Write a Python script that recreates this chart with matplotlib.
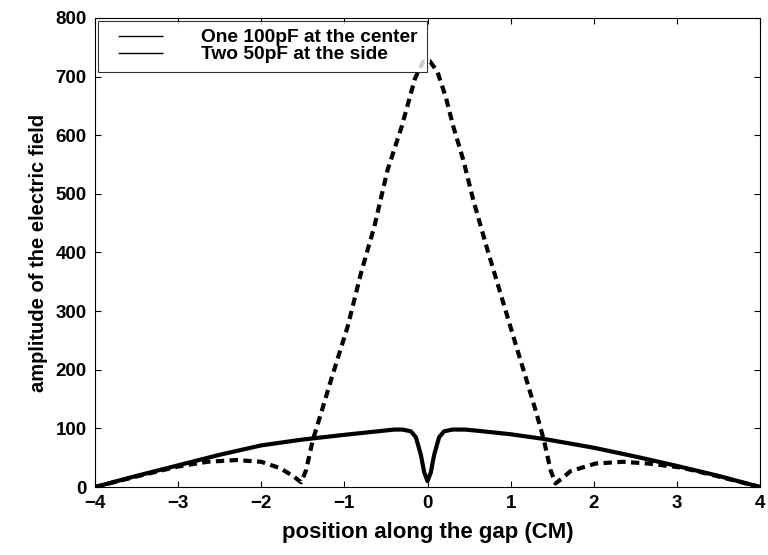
import numpy as np
import matplotlib.pyplot as plt
from matplotlib.lines import Line2D

plt.rcParams["font.family"] = ["Liberation Sans", "DejaVu Sans"]
plt.rcParams["font.weight"] = "bold"
plt.rcParams["axes.labelweight"] = "bold"

# One 100pF capacitor at the center of the gap
x_center = [-4.0, -3.5, -3.0, -2.5, -2.0, -1.5, -1.0, -0.6, -0.4, -0.3,
            -0.2, -0.14, -0.08, -0.04, 0.0, 0.04, 0.08, 0.14, 0.2, 0.3,
            0.45, 0.6, 1.0, 1.4, 2.0, 2.5, 3.0, 3.5, 4.0]
e_center = [0, 19, 37, 55, 71, 81, 89, 95, 98, 98,
            95, 85, 55, 25, 10, 25, 55, 85, 95, 98,
            98, 96, 90, 82, 67, 52, 36, 19, 0]

# Two 50pF capacitors at the sides
x_side = [-4.0, -3.5, -3.0, -2.65, -2.3, -2.0, -1.77, -1.61, -1.52, -1.46,
          -1.38, -1.28, -1.16, -0.96, -0.80, -0.64, -0.48, -0.31, -0.15, -0.05,
          0.03, 0.12, 0.22, 0.31, 0.43, 0.55, 0.71, 0.83, 0.95, 1.07,
          1.19, 1.31, 1.40, 1.48, 1.54, 1.62, 1.72, 2.02, 2.35, 2.66,
          3.06, 3.5, 4.0]
e_side = [0, 18, 35, 43, 46, 43, 32, 18, 8, 29,
          80, 126, 183, 274, 365, 444, 541, 615, 697, 726,
          726, 708, 665, 615, 558, 490, 410, 353, 296, 239,
          183, 126, 80, 29, 6, 15, 27, 40, 43, 40,
          33, 18, 0]

fig = plt.figure(figsize=(7.68, 5.55), dpi=100)
ax = fig.add_axes([0.1237, 0.1225, 0.8659, 0.8451])

ax.plot(x_center, e_center, color="black", lw=3.0, solid_joinstyle="round")
ax.plot(x_side, e_side, color="black", lw=3.0, linestyle=(0, (2, 1.3)))

ax.set_xlim(-4, 4)
ax.set_ylim(0, 800)
ax.set_xticks(np.arange(-4, 5, 1))
ax.set_yticks(np.arange(0, 801, 100))
ax.tick_params(direction="in", top=True, right=True, length=4, width=0.8,
               labelsize=13.5, pad=6)
for s in ax.spines.values():
    s.set_linewidth(0.8)

ax.set_xlabel("position along the gap (CM)", fontsize=16, labelpad=7)
ax.set_ylabel("amplitude of the electric field", fontsize=14.5, labelpad=5)

# short legend keys, indented from the frame edge by a leading gap
key_style = (32.4, (32.4, 8.0))
handles = [Line2D([], [], color="black", lw=1.0, linestyle=key_style),
           Line2D([], [], color="black", lw=1.0, linestyle=key_style)]
labels = ["One 100pF at the center", "Two 50pF at the side"]
leg = ax.legend(handles, labels, loc="upper left", fontsize=13.8,
                frameon=True, fancybox=False, edgecolor="black",
                handlelength=2.95, handletextpad=2.0, labelspacing=0.0,
                borderaxespad=0.15, borderpad=0.45, handleheight=0.6)
leg.get_frame().set_linewidth(0.8)

fig.savefig("out.png", dpi=100)
